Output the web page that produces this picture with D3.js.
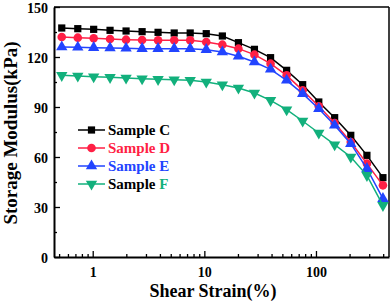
<!DOCTYPE html>
<html>
<head>
<meta charset="utf-8">
<script src="https://cdn.jsdelivr.net/npm/d3@7"></script>
<style>
  body { margin: 0; background: #fff; }
  svg { display: block; font-family: "Liberation Serif", "Times New Roman", serif; font-weight: bold; }
</style>
</head>
<body>
<div id="chart"></div>
<script>
// shear strain (%) for every measured point
var strain = [0.528, 0.735, 1.02, 1.43, 1.99, 2.77, 3.85, 5.37, 7.47, 10.4, 14.5,
              20.2, 28.1, 39.2, 54.6, 76.0, 106, 147, 205, 286, 398];
// storage modulus (kPa) for each sample
var sampleC = [137.4, 137.0, 136.6, 136.0, 135.6, 135.2, 134.8, 134.4, 134.4, 134.0, 132.6,
               128.6, 124.6, 119.6, 112, 103.4, 93, 83.6, 73, 61, 47.6];
var sampleD = [132, 131.6, 131.2, 130.8, 130.4, 130.2, 130, 130, 130, 129, 127.4,
               125, 121.4, 116, 109, 100, 90.4, 80.4, 69, 56, 43];
var sampleE = [126, 125.8, 125.6, 125.4, 125.2, 125, 125, 125, 125, 124.4, 123,
               120.4, 117, 112.6, 106, 98, 89, 79, 68, 53, 35];
var sampleF = [109, 108.6, 108.2, 107.8, 107.4, 107, 106.6, 106.4, 106, 105, 103.4,
               101.4, 98.4, 94, 88.4, 81.6, 74.4, 67.4, 60, 49, 31];
var seriesNames = ["Sample C", "Sample D", "Sample E", "Sample F"];
var yTicks = [0, 30, 60, 90, 120, 150];
var yMinor = [15, 45, 75, 105, 135];
var xTicks = [1, 10, 100];
var xMinor = [0.5, 0.6, 0.7, 0.8, 0.9, 2, 3, 4, 5, 6, 7, 8, 9,
              20, 30, 40, 50, 60, 70, 80, 90, 200, 300, 400];

var W = 392, H = 303;
var margin = {top: 7, right: 3, bottom: 46, left: 54};
var w = W - margin.left - margin.right,
    h = H - margin.top - margin.bottom;

var svg = d3.select("#chart").append("svg")
  .attr("width", W).attr("height", H);
var g = svg.append("g")
  .attr("transform", "translate(" + margin.left + "," + margin.top + ")");

var x = d3.scaleLog().domain([0.45, 451]).range([0, w]);
var y = d3.scaleLinear().domain([0, 150]).range([h, 0]);

var colors = ["#000000", "#ff1f45", "#2244ff", "#12b07c"];
var data = [sampleC, sampleD, sampleE, sampleF];

// frame (top + right)
g.append("line").attr("x1", 0).attr("x2", w).attr("y1", 0).attr("y2", 0)
  .attr("stroke", "#000").attr("stroke-width", 1.5);
g.append("line").attr("x1", w).attr("x2", w).attr("y1", 0).attr("y2", h)
  .attr("stroke", "#000").attr("stroke-width", 1.5);

// axes, ticks inward
var xAxis = g.append("g").attr("transform", "translate(0," + h + ")")
  .call(d3.axisBottom(x).tickValues(xTicks).tickFormat(d3.format("d"))
    .tickSizeInner(-6).tickSizeOuter(0).tickPadding(10));
var xMin = g.append("g").attr("transform", "translate(0," + h + ")")
  .call(d3.axisBottom(x).tickValues(xMinor).tickFormat("").tickSizeInner(-3).tickSizeOuter(0));
xMin.select(".domain").remove();

var yAxis = g.append("g")
  .call(d3.axisLeft(y).tickValues(yTicks).tickSizeInner(-6).tickSizeOuter(0).tickPadding(6));
var yMin = g.append("g")
  .call(d3.axisLeft(y).tickValues(yMinor).tickFormat("").tickSizeInner(-3).tickSizeOuter(0));
yMin.select(".domain").remove();

g.selectAll(".domain").attr("stroke-width", 2);
g.selectAll(".tick line").attr("stroke-width", 1.3);
g.selectAll(".tick text").attr("font-size", "14px").attr("font-weight", "bold")
  .attr("font-family", "Liberation Serif").attr("fill", "#000");
yAxis.selectAll(".tick text").attr("dy", "0.36em");

// series lines and markers
var line = d3.line()
  .x(function(d, i) { return x(strain[i]); })
  .y(function(d) { return y(d); });

var symbols = [d3.symbolSquare, d3.symbolCircle, d3.symbolTriangle, d3.symbolTriangle];
var symSize = [52, 58, 56, 56];

data.forEach(function(vals, s) {
  g.append("path").datum(vals)
    .attr("d", line)
    .attr("fill", "none")
    .attr("stroke", colors[s])
    .attr("stroke-width", 1.5);
  g.selectAll(".pt" + s)
    .data(vals)
    .enter()
    .append("path")
    .attr("d", d3.symbol().type(symbols[s]).size(symSize[s]))
    .attr("transform", function(d, i) {
      return "translate(" + x(strain[i]) + "," + y(d) + ")" + (s == 3 ? " rotate(180)" : "");
    })
    .attr("fill", colors[s]);
});

// legend
var leg = svg.append("g").attr("transform", "translate(78,130)");
seriesNames.forEach(function(name, s) {
  var row = leg.append("g").attr("transform", "translate(0," + (s * 18) + ")");
  row.append("line").attr("x1", 0).attr("x2", 27).attr("y1", 0).attr("y2", 0)
    .attr("stroke", colors[s]).attr("stroke-width", 1.5);
  row.append("path")
    .attr("d", d3.symbol().type(symbols[s]).size(symSize[s]))
    .attr("transform", "translate(13.5,0)" + (s == 3 ? " rotate(180)" : ""))
    .attr("fill", colors[s]);
  var t = row.append("text").attr("x", 30).attr("y", 5)
    .attr("font-size", "15px").attr("font-weight", "bold");
  if (s == 3) {
    t.append("tspan").attr("fill", "#000").text("Sample ");
    t.append("tspan").attr("fill", colors[s]).text("F");
  } else {
    t.attr("fill", colors[s]).text(name);
  }
});

// axis titles
svg.append("text")
  .attr("x", 213).attr("y", 297)
  .attr("text-anchor", "middle")
  .attr("font-size", "18px")
  .text("Shear Strain(%)");

svg.append("text")
  .attr("transform", "translate(17,133) rotate(-90)")
  .attr("text-anchor", "middle")
  .attr("font-size", "19px")
  .text("Storage Modulus(kPa)");
</script>
</body>
</html>
